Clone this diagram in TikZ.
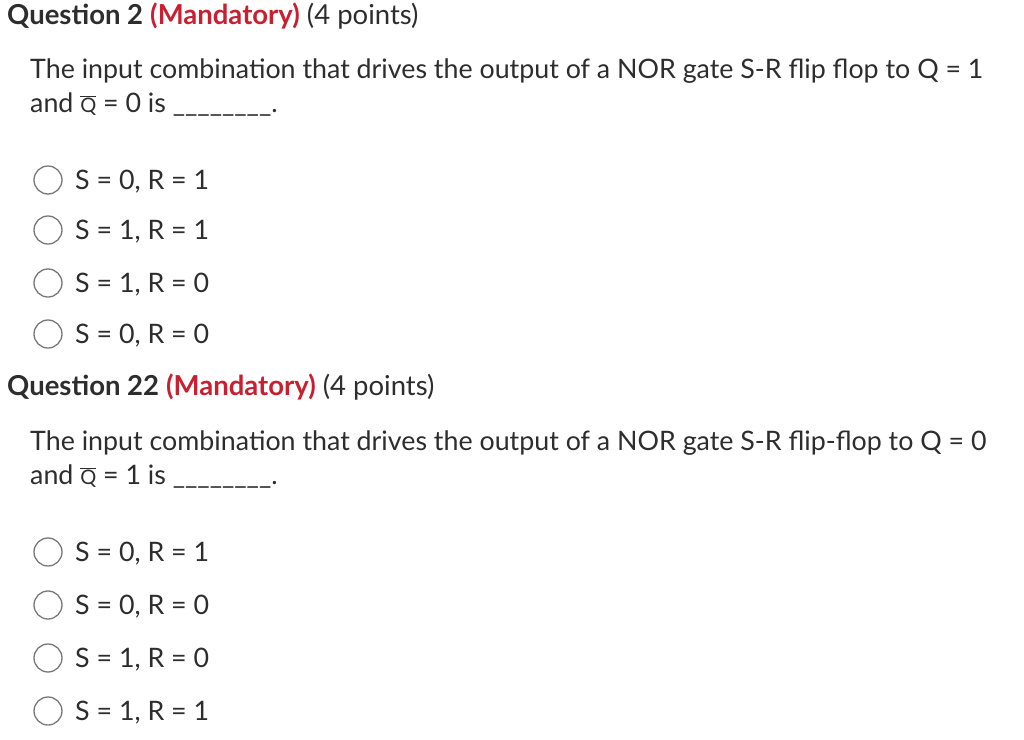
\documentclass[tikz,border=0pt]{standalone}
\usepackage{fontspec}
\setmainfont{Lato}
\definecolor{txt}{RGB}{45,45,45}
\definecolor{mand}{RGB}{200,32,48}
\definecolor{circ}{RGB}{120,120,120}
\begin{document}
\begin{tikzpicture}[x=1pt,y=-1pt,
  every node/.style={anchor=base west,inner sep=0pt,text=txt},
  body/.style={font=\fontsize{26.8}{32}\selectfont},
  head/.style={font=\fontsize{27.5}{32}\selectfont},
  radio/.style={draw=circ,line width=1.3pt,fill=white}]
\useasboundingbox (0,0) rectangle (1024,739);
\newcommand\qb{$\overline{\mbox{\fontsize{20}{24}\selectfont Q}}$}
\node[head] (h1) at (7,24) {\textbf{Question 2} \textcolor{mand}{\textbf{(Mandatory)}} (4 points)};
\node[body] (b1) at (30,78) {The input combination that drives the output of a NOR gate S-R flip flop to Q = 1};
\node[body] (b2) at (30,112) {and \qb{} = 0 is \_\_\_\_\_\_\_\_.};
\foreach \y/\t [count=\i] in {180/{S = 0, R = 1},230/{S = 1, R = 1},283/{S = 1, R = 0},334/{S = 0, R = 0}}{
  \draw[radio] (48,\y) circle (14);
  \node[body] (oa\i) at (75,\y+9) {\t};
}
\node[head] (h2) at (7,395) {\textbf{Question 22} \textcolor{mand}{\textbf{(Mandatory)}} (4 points)};
\node[body] (c1) at (30,450) {The input combination that drives the output of a NOR gate S-R flip-flop to Q = 0};
\node[body] (c2) at (30,484) {and \qb{} = 1 is \_\_\_\_\_\_\_\_.};
\foreach \y/\t [count=\i] in {552/{S = 0, R = 1},605/{S = 0, R = 0},658/{S = 1, R = 0},711/{S = 1, R = 1}}{
  \draw[radio] (48,\y) circle (14);
  \node[body] (ob\i) at (75,\y+9) {\t};
}
\end{tikzpicture}
\end{document}
